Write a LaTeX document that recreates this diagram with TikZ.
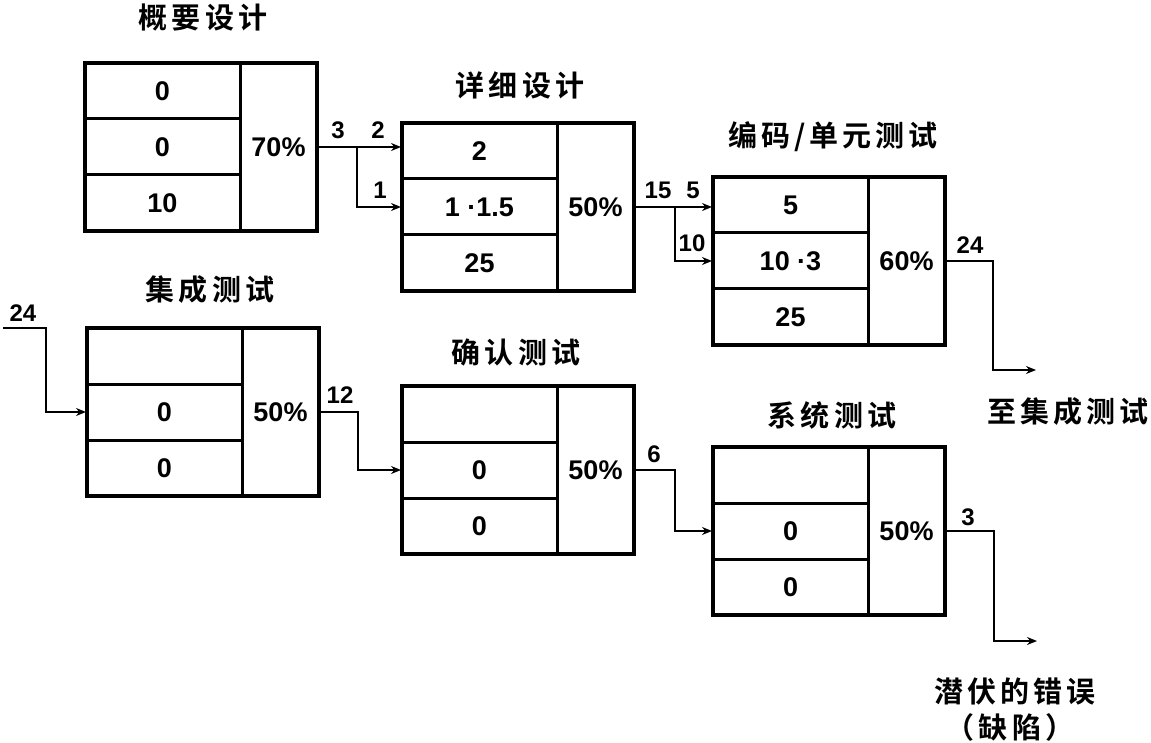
\documentclass[tikz,border=0pt]{standalone}
\usepackage{fontspec}
\usetikzlibrary{arrows.meta,fit,calc}
\setmainfont{Liberation Sans}
\newfontfamily\cjk{Noto Sans CJK SC Bold}[LetterSpace=14]
\newcommand\estbox[8]{% name, x, y, r1, r2, r3, pct
  \node[cell, anchor=north west] (#1-r1) at (#2,#3) {#4};
  \node[cell, anchor=north] (#1-r2) at (#1-r1.south) {#5};
  \node[cell, anchor=north] (#1-r3) at (#1-r2.south) {#6};
  \node[pcell, anchor=north west] (#1-p) at (#1-r1.north east) {#7};
  \node[outerbox, fit=(#1-r1)(#1-r3)(#1-p)] (#1) {};
}
\begin{document}
\begin{tikzpicture}[x=1pt,y=-1pt,
  cell/.style={draw, line width=3pt, rectangle, minimum width=155pt, minimum height=56pt,
    inner sep=0pt, outer sep=0pt, font=\bfseries\fontsize{27}{27}\selectfont},
  pcell/.style={cell, minimum width=77pt, minimum height=168pt},
  outerbox/.style={draw, line width=4pt, inner sep=0pt, outer sep=0pt},
  conn/.style={line width=2.8pt},
  arr/.style={conn, -{Stealth[length=10pt,width=8pt]}, shorten >=1pt},
  title/.style={font=\cjk\fontsize{29}{29}\selectfont, inner sep=0pt},
  lab/.style={font=\bfseries\fontsize{24}{24}\selectfont, inner sep=0pt}]
\useasboundingbox (0,0) rectangle (1151,743);

% boxes
\estbox{b1}{85}{63}{0}{0}{10}{70\%}{}
\estbox{b2}{402}{123}{2}{1 ·1.5}{25}{50\%}{}
\estbox{b3}{713}{177}{5}{10 ·3}{25}{60\%}{}
\estbox{b4}{87}{328}{}{0}{0}{50\%}{}
\estbox{b5}{402}{386}{}{0}{0}{50\%}{}
\estbox{b6}{713}{447}{}{0}{0}{50\%}{}

% titles
\node[title] (t1) at (203,18) {概要设计};
\node[title] (t2) at (520,85) {详细设计};
\node[title] (t3) at (833,137) {编码/单元测试};
\node[title] (t4) at (210,290) {集成测试};
\node[title] (t5) at (516,352) {确认测试};
\node[title] (t6) at (832,415) {系统测试};
\node[title] (t7) at (1068,412) {至集成测试};
\node[title] (t8) at (1015,692) {潜伏的错误};
\node[title] (t9) at (1010,727) {（缺陷）};

% junction / free-end coordinates
\coordinate (j12) at ($(b1.east)+(40,0)$);
\coordinate (j23) at ($(b2.east)+(41,0)$);
\coordinate (j3o) at ($(b3.east)+(48,0)$);
\coordinate (o3) at (1037,370);
\coordinate (i4) at (3,328);
\coordinate (j4i) at (46,328);
\coordinate (j45) at ($(b4.east)+(39,0)$);
\coordinate (j56) at ($(b5.east)+(41,0)$);
\coordinate (j6o) at ($(b6.east)+(49,0)$);
\coordinate (o6) at (1038,641);

% connectors
\draw[arr] (b1.east) -- (b1.east -| b2.west);
\draw[arr] (j12) |- (b2-r2.west);
\draw[arr] (b2.east) -- (b2.east -| b3.west);
\draw[arr] (j23) |- (b3-r2.west);
\draw[arr] (b3.east) -- (j3o) |- (o3);
\draw[arr] (i4) -- (j4i) |- (b4-r2.west);
\draw[arr] (b4.east) -- (j45) |- (b5-r2.west);
\draw[arr] (b5.east) -- (j56) |- (b6-r2.west);
\draw[arr] (b6.east) -- (j6o) |- (o6);

% flow labels
\node[lab] (l3) at (338,130) {3};
\node[lab] (l2) at (378,130) {2};
\node[lab] (l1) at (380,190) {1};
\node[lab] (l15) at (658,190) {15};
\node[lab] (l5) at (693,190) {5};
\node[lab] (l10) at (692,243) {10};
\node[lab] (l24a) at (970,245) {24};
\node[lab] (l24b) at (23,313) {24};
\node[lab] (l12) at (340,395) {12};
\node[lab] (l6) at (654,454) {6};
\node[lab] (l3b) at (968,517) {3};
\end{tikzpicture}
\end{document}
